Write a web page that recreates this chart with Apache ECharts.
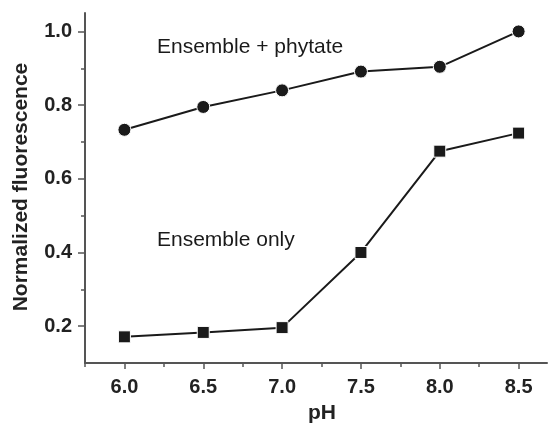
<!DOCTYPE html>
<html><head><meta charset="utf-8">
<script src="https://cdn.jsdelivr.net/npm/echarts@6/dist/echarts.min.js"></script>
<style>html,body{margin:0;padding:0;background:#fff}#c{width:549px;height:424px}</style>
</head><body><div id="c"></div>
<script>
const pH = [6.0, 6.5, 7.0, 7.5, 8.0, 8.5];
const ensemblePhytate = [0.733, 0.795, 0.840, 0.891, 0.904, 1.0];
const ensembleOnly = [0.171, 0.183, 0.196, 0.400, 0.675, 0.724];
const xTicks = [6.0, 6.5, 7.0, 7.5, 8.0, 8.5];
const xMinorTicks = [5.75, 6.25, 6.75, 7.25, 7.75, 8.25];
const yTicks = [0.2, 0.4, 0.6, 0.8, 1.0];
const yMinorTicks = [0.3, 0.5, 0.7, 0.9];
const labelPhytate = 'Ensemble + phytate';
const labelOnly = 'Ensemble only';
const xName = 'pH';
const yName = 'Normalized fluorescence';

const FONT = "'Liberation Sans', Arial, Helvetica, sans-serif";
const AX = '#555';
const X_MIN = 5.75, X_MAX = 8.68, Y_MIN = 0.1, Y_MAX = 1.05;

const chart = echarts.init(document.getElementById('c'), null, {renderer: 'canvas'});
const pairs = (xs, ys) => xs.map((x, i) => [x, ys[i]]);

const baseX = {type: 'value', min: X_MIN, max: X_MAX, position: 'bottom', splitLine: {show: false}, axisLine: {onZero: false}};
const baseY = {type: 'value', min: Y_MIN, max: Y_MAX, position: 'left', splitLine: {show: false}, axisLine: {onZero: false}};

chart.setOption({
  animation: false,
  backgroundColor: '#fff',
  grid: {left: 85, right: 2, top: 13, bottom: 61, containLabel: false},
  xAxis: [
    Object.assign({}, baseX, {
      axisLine: {show: true, onZero: false, lineStyle: {color: AX, width: 2}},
      axisTick: {show: true, customValues: xTicks, length: 6, lineStyle: {color: AX, width: 1.5}},
      axisLabel: {show: true, customValues: xTicks, margin: 14, fontFamily: FONT, fontSize: 20, fontWeight: 'bold', color: '#222', formatter: v => v.toFixed(1)}
    }),
    Object.assign({}, baseX, {
      axisLine: {show: false, onZero: false},
      axisTick: {show: true, customValues: xMinorTicks, length: 4, lineStyle: {color: AX, width: 1.5}},
      axisLabel: {show: false}
    })
  ],
  yAxis: [
    Object.assign({}, baseY, {
      axisLine: {show: true, onZero: false, lineStyle: {color: AX, width: 2}},
      axisTick: {show: true, customValues: yTicks, length: 7, lineStyle: {color: AX, width: 1.5}},
      axisLabel: {show: true, customValues: yTicks, margin: 13, fontFamily: FONT, fontSize: 20, fontWeight: 'bold', color: '#222', formatter: v => v.toFixed(1)}
    }),
    Object.assign({}, baseY, {
      axisLine: {show: false, onZero: false},
      axisTick: {show: true, customValues: yMinorTicks, length: 4, lineStyle: {color: AX, width: 1.5}},
      axisLabel: {show: false}
    })
  ],
  series: [
    {
      name: labelPhytate, type: 'line', xAxisIndex: 0, yAxisIndex: 0,
      data: pairs(pH, ensemblePhytate),
      symbol: 'circle', symbolSize: 13,
      lineStyle: {color: '#1a1a1a', width: 2},
      itemStyle: {color: '#1a1a1a', borderColor: '#fff', borderWidth: 1},
      z: 3
    },
    {
      name: labelOnly, type: 'line', xAxisIndex: 0, yAxisIndex: 0,
      data: pairs(pH, ensembleOnly),
      symbol: 'rect', symbolSize: 12,
      lineStyle: {color: '#1a1a1a', width: 2},
      itemStyle: {color: '#1a1a1a', borderColor: '#fff', borderWidth: 1},
      z: 3
    }
  ],
  graphic: [
    {type: 'text', x: 157, y: 47, style: {text: labelPhytate, font: `21px ${FONT}`, fill: '#1a1a1a', textAlign: 'left', textVerticalAlign: 'middle'}},
    {type: 'text', x: 157, y: 240, style: {text: labelOnly, font: `21px ${FONT}`, fill: '#1a1a1a', textAlign: 'left', textVerticalAlign: 'middle'}},
    {type: 'text', x: 322, y: 413, style: {text: xName, font: `bold 21px ${FONT}`, fill: '#222', textAlign: 'center', textVerticalAlign: 'middle'}},
    {type: 'text', x: 21, y: 187, rotation: Math.PI / 2, style: {text: yName, font: `bold 21px ${FONT}`, fill: '#222', textAlign: 'center', textVerticalAlign: 'middle'}}
  ]
});
</script>
</body></html>
